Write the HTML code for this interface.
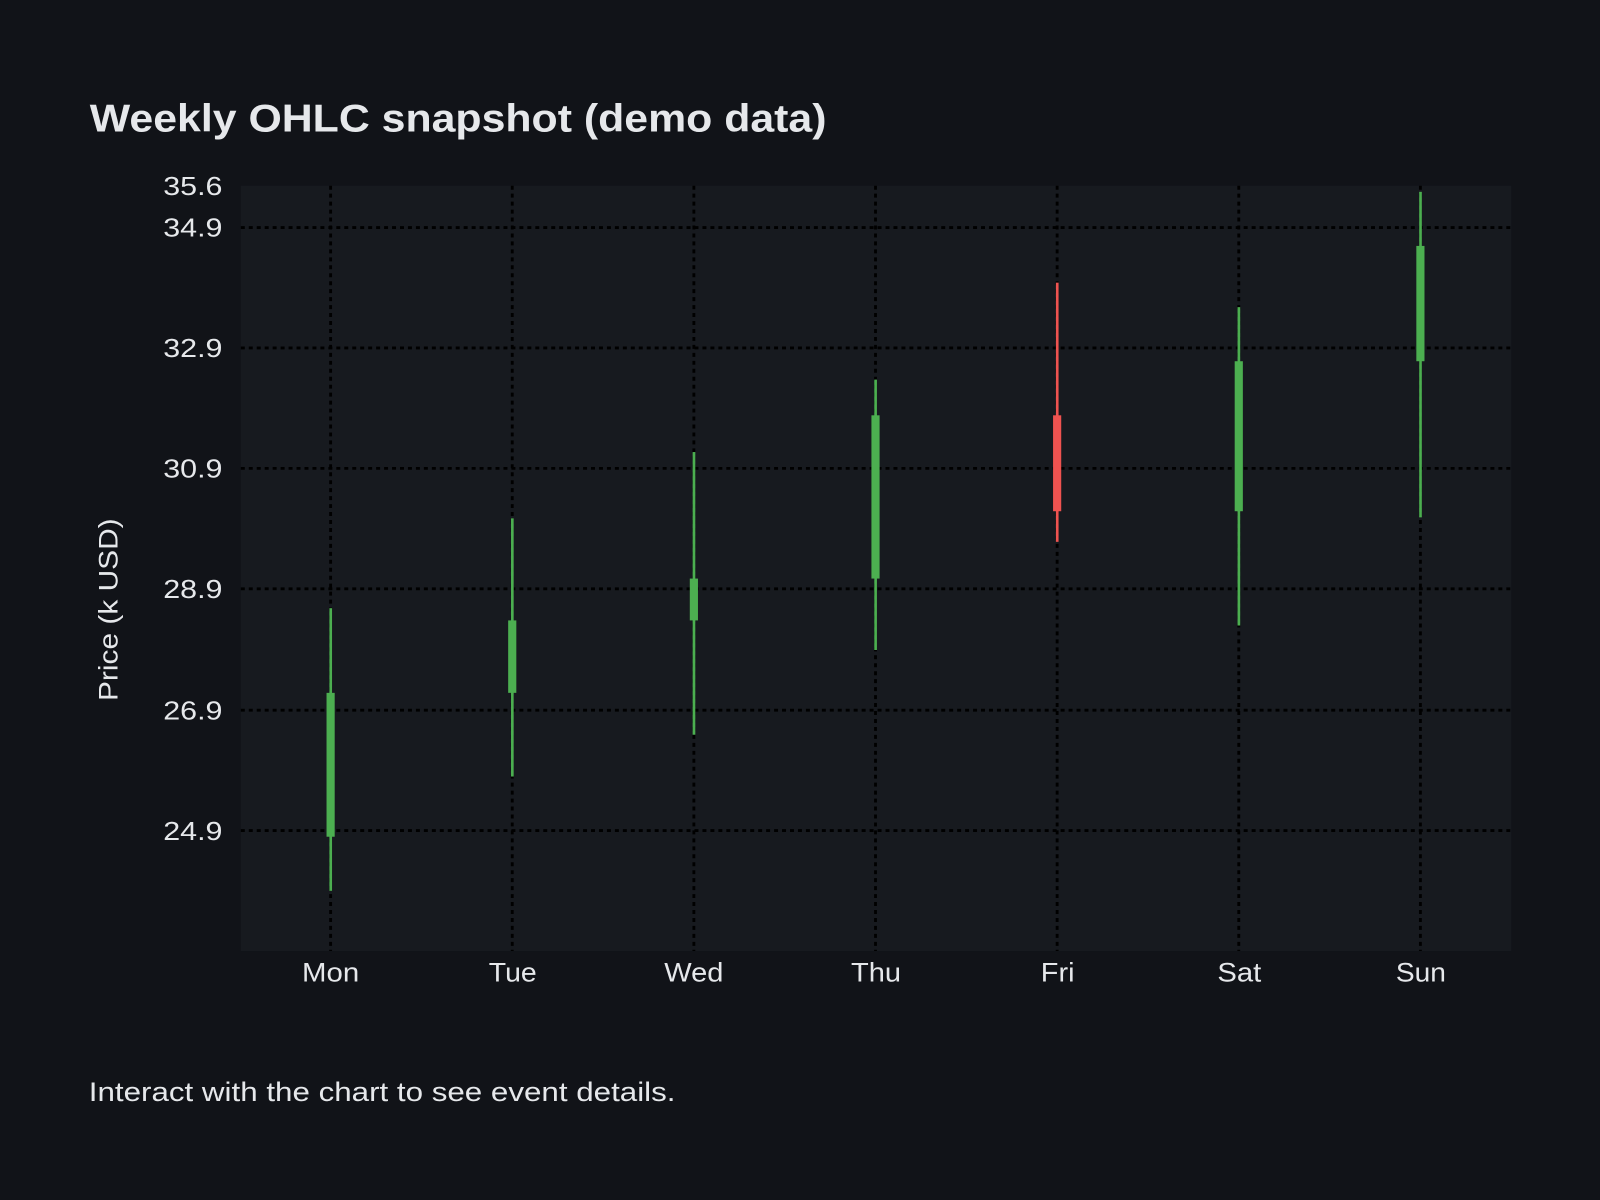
<!DOCTYPE html>
<html><head><meta charset="utf-8"><style>
html,body{margin:0;padding:0;background:#111318;}
svg{display:block}
text{font-family:"Liberation Sans",sans-serif;fill:#e6e8eb}
</style></head><body>
<svg width="1600" height="1200" viewBox="0 0 1568 1176" xmlns="http://www.w3.org/2000/svg">
<rect width="1568" height="1176" fill="#111318"/>
<text x="88" y="129" font-size="38" font-weight="bold" textLength="722" lengthAdjust="spacingAndGlyphs">Weekly OHLC snapshot (demo data)</text>
<rect x="236" y="182" width="1245" height="750" fill="#171a1f"/>
<g stroke="#000" stroke-width="2.8" stroke-dasharray="3.9 3.9">
<line x1="236" x2="1481" y1="223" y2="223"/>
<line x1="236" x2="1481" y1="341" y2="341"/>
<line x1="236" x2="1481" y1="459" y2="459"/>
<line x1="236" x2="1481" y1="577" y2="577"/>
<line x1="236" x2="1481" y1="696" y2="696"/>
<line x1="236" x2="1481" y1="814" y2="814"/>
<line x1="324" x2="324" y1="182" y2="932"/>
<line x1="502" x2="502" y1="182" y2="932"/>
<line x1="680" x2="680" y1="182" y2="932"/>
<line x1="858" x2="858" y1="182" y2="932"/>
<line x1="1036" x2="1036" y1="182" y2="932"/>
<line x1="1214" x2="1214" y1="182" y2="932"/>
<line x1="1392" x2="1392" y1="182" y2="932"/>
</g>
<g font-size="25">
<text x="160" y="191" textLength="58" lengthAdjust="spacingAndGlyphs">35.6</text>
<text x="160" y="232" textLength="58" lengthAdjust="spacingAndGlyphs">34.9</text>
<text x="160" y="350" textLength="58" lengthAdjust="spacingAndGlyphs">32.9</text>
<text x="160" y="468" textLength="58" lengthAdjust="spacingAndGlyphs">30.9</text>
<text x="160" y="586" textLength="58" lengthAdjust="spacingAndGlyphs">28.9</text>
<text x="160" y="705" textLength="58" lengthAdjust="spacingAndGlyphs">26.9</text>
<text x="160" y="823" textLength="58" lengthAdjust="spacingAndGlyphs">24.9</text>
</g>
<g font-size="26">
<text x="296" y="962" textLength="56" lengthAdjust="spacingAndGlyphs">Mon</text>
<text x="479" y="962" textLength="47" lengthAdjust="spacingAndGlyphs">Tue</text>
<text x="651" y="962" textLength="58" lengthAdjust="spacingAndGlyphs">Wed</text>
<text x="834" y="962" textLength="49" lengthAdjust="spacingAndGlyphs">Thu</text>
<text x="1020" y="962" textLength="33" lengthAdjust="spacingAndGlyphs">Fri</text>
<text x="1193" y="962" textLength="43" lengthAdjust="spacingAndGlyphs">Sat</text>
<text x="1368" y="962" textLength="49" lengthAdjust="spacingAndGlyphs">Sun</text>
</g>
<text transform="translate(115,687) rotate(-90)" font-size="26" textLength="179" lengthAdjust="spacingAndGlyphs">Price (k USD)</text>
<g fill="#4caf50">
<rect x="322.8" y="596" width="2.6" height="277"/><rect x="320" y="679" width="8" height="141"/>
<rect x="500.8" y="508" width="2.6" height="253"/><rect x="498" y="608" width="8" height="71"/>
<rect x="678.8" y="443" width="2.6" height="277"/><rect x="676" y="567" width="8" height="41"/>
<rect x="856.8" y="372" width="2.6" height="265"/><rect x="854" y="407" width="8" height="160"/>
<rect x="1212.8" y="301" width="2.6" height="312"/><rect x="1210" y="354" width="8" height="147"/>
<rect x="1390.8" y="188" width="2.6" height="319"/><rect x="1388" y="241" width="8" height="113"/>
</g>
<g fill="#ef5350">
<rect x="1034.8" y="277" width="2.6" height="254"/><rect x="1032" y="407" width="8" height="94"/>
</g>
<text x="87" y="1079" font-size="26" textLength="575" lengthAdjust="spacingAndGlyphs">Interact with the chart to see event details.</text>
</svg>
</body></html>
